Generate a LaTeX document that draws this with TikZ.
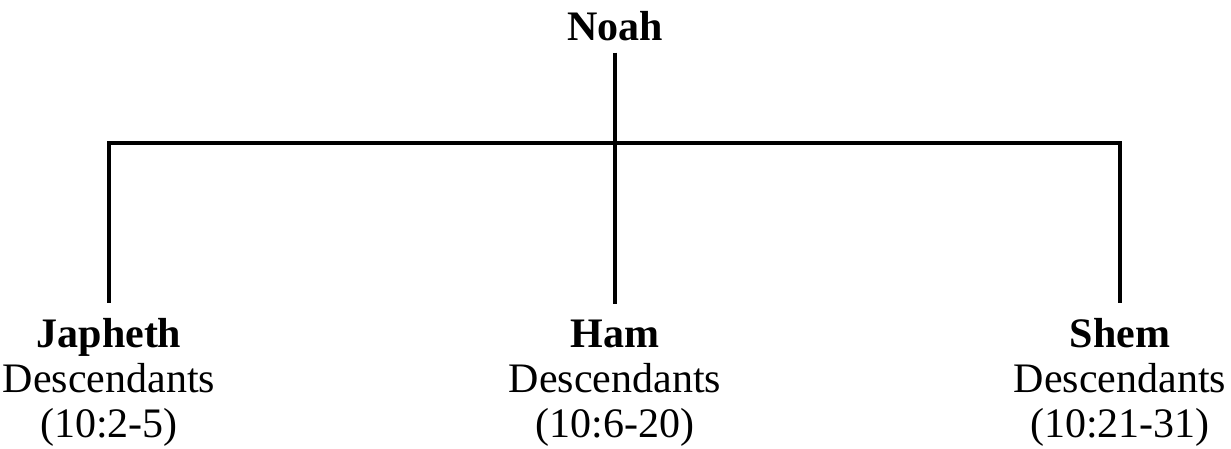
\documentclass[tikz,border=0pt]{standalone}
\usepackage{fontspec}
\setmainfont{Liberation Serif}
\begin{document}
\begin{tikzpicture}[x=1pt,y=-1pt,
  txt/.style={anchor=base,inner sep=0pt,font=\fontsize{42}{45}\selectfont},
  who/.style={txt,font=\fontsize{42}{45}\selectfont\bfseries,inner ysep=15pt},
  link/.style={line width=4pt,draw=black}]
\useasboundingbox (0,0) rectangle (1231,449);
\node[txt,font=\fontsize{42}{45}\selectfont\bfseries,inner ysep=11pt] (noah) at (615,41) {Noah};
\coordinate (bar) at (615,143);
\node[who] (japheth) at (109,347) {Japheth};
\node[txt] (japhethD) at (109,392) {Descendants};
\node[txt] (japhethR) at (109,437) {(10:2-5)};
\node[who] (ham) at (615,347) {Ham};
\node[txt] (hamD) at (615,392) {Descendants};
\node[txt] (hamR) at (615,437) {(10:6-20)};
\node[who] (shem) at (1120,347) {Shem};
\node[txt] (shemD) at (1120,392) {Descendants};
\node[txt] (shemR) at (1120,437) {(10:21-31)};
\draw[link] (noah.south) -- (ham.north);
\draw[link] (japheth.north) -- (japheth.north |- bar) -- (shem.north |- bar) -- (shem.north);
\end{tikzpicture}
\end{document}
